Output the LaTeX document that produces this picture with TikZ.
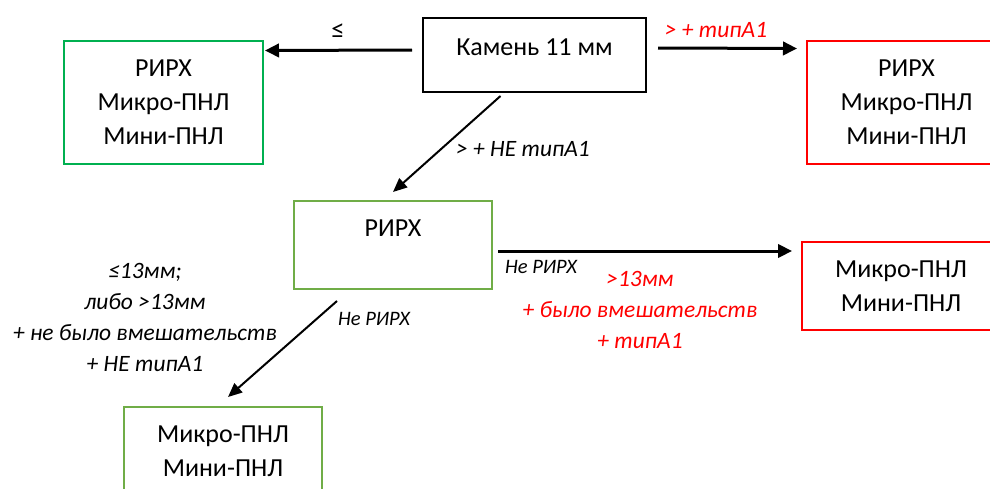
\documentclass[tikz,border=0pt]{standalone}
\usepackage{fontspec}
\setmainfont{Carlito}
\usetikzlibrary{arrows.meta,calc}
\definecolor{gA}{HTML}{00B050}
\definecolor{gB}{HTML}{70AD47}
\definecolor{rA}{HTML}{FF0000}
\begin{document}
\begin{tikzpicture}[x=0.75pt,y=-0.75pt,
  box/.style={draw, line width=1.5pt, minimum width=198*0.75pt, minimum height=88*0.75pt, inner sep=0pt, align=center, font=\fontsize{19.5}{25.5}\selectfont},
  maintxt/.style={inner sep=0pt, font=\fontsize{19.5}{25.5}\selectfont},
  lab/.style={inner sep=0pt, align=center, font=\fontsize{17.6}{23.25}\selectfont\itshape},
  smalllab/.style={inner sep=0pt, font=\fontsize{15.4}{17}\selectfont\itshape},
  bigarrow/.style={-{Triangle[length=10.5pt,width=10pt]}, line width=2.25pt},
  thinarrow/.style={-{Triangle[length=10.5pt,width=9pt]}, line width=1.5pt}]
\useasboundingbox (0,0) rectangle (990,489);
\clip (0,0) rectangle (990,489);
% boxes
\node[box, draw=gA, minimum width=199*0.75pt, minimum height=123*0.75pt] (tl) at (163.5,102.5) {РИРХ\\Микро-ПНЛ\\Мини-ПНЛ};
\node[box, draw=rA, minimum width=199*0.75pt, minimum height=123*0.75pt] (tr) at (906.5,102.5) {РИРХ\\Микро-ПНЛ\\Мини-ПНЛ};
\node[box, draw=black, minimum width=223*0.75pt, minimum height=74*0.75pt] (kam) at (534.5,55) {};
\node[maintxt] (kamt) at (534.5,47) {Камень 11 мм};
\node[box, draw=gB] (mid) at (393,245) {};
\node[maintxt] (midt) at (393,228) {РИРХ};
\node[box, draw=rA] (rm) at (901,286) {Микро-ПНЛ\\Мини-ПНЛ};
\node[box, draw=gB] (bot) at (223,451) {Микро-ПНЛ\\Мини-ПНЛ};
% arrows
\draw[bigarrow] ($(kam.west)+(-10,-5)$) -- ($(tl.east)+(1,-52)$);
\draw[bigarrow] ($(kam.east)+(11,-7)$) -- ($(tr.west)+(-9,-54)$);
\draw[thinarrow] ($(kam.south)+(-34,3)$) -- ($(mid.north)+(0,-8)$);
\draw[bigarrow] ($(mid.east)+(5,6)$) -- ($(rm.west)+(-9,-35)$);
\draw[thinarrow] ($(mid.south)+(-56,11)$) -- ($(bot.north)+(5,-9)$);
% labels
\node[lab, font=\fontsize{20}{22}\selectfont] (l1) at (338,31) {≤};
\node[lab, text=rA] (l2) at (716,30) {> + типА1};
\node[lab] (l3) at (523,149) {> + НЕ типА1};
\node[smalllab] (l4) at (541,267) {Не РИРХ};
\node[lab, text=rA] (l5) at (640,310) {>13мм\\+ было вмешательств\\+ типА1};
\node[lab] (l6) at (145,317.5) {≤13мм;\\либо >13мм\\+ не было вмешательств\\+ НЕ типА1};
\node[smalllab] (l7) at (374,319) {Не РИРХ};
\end{tikzpicture}
\end{document}
